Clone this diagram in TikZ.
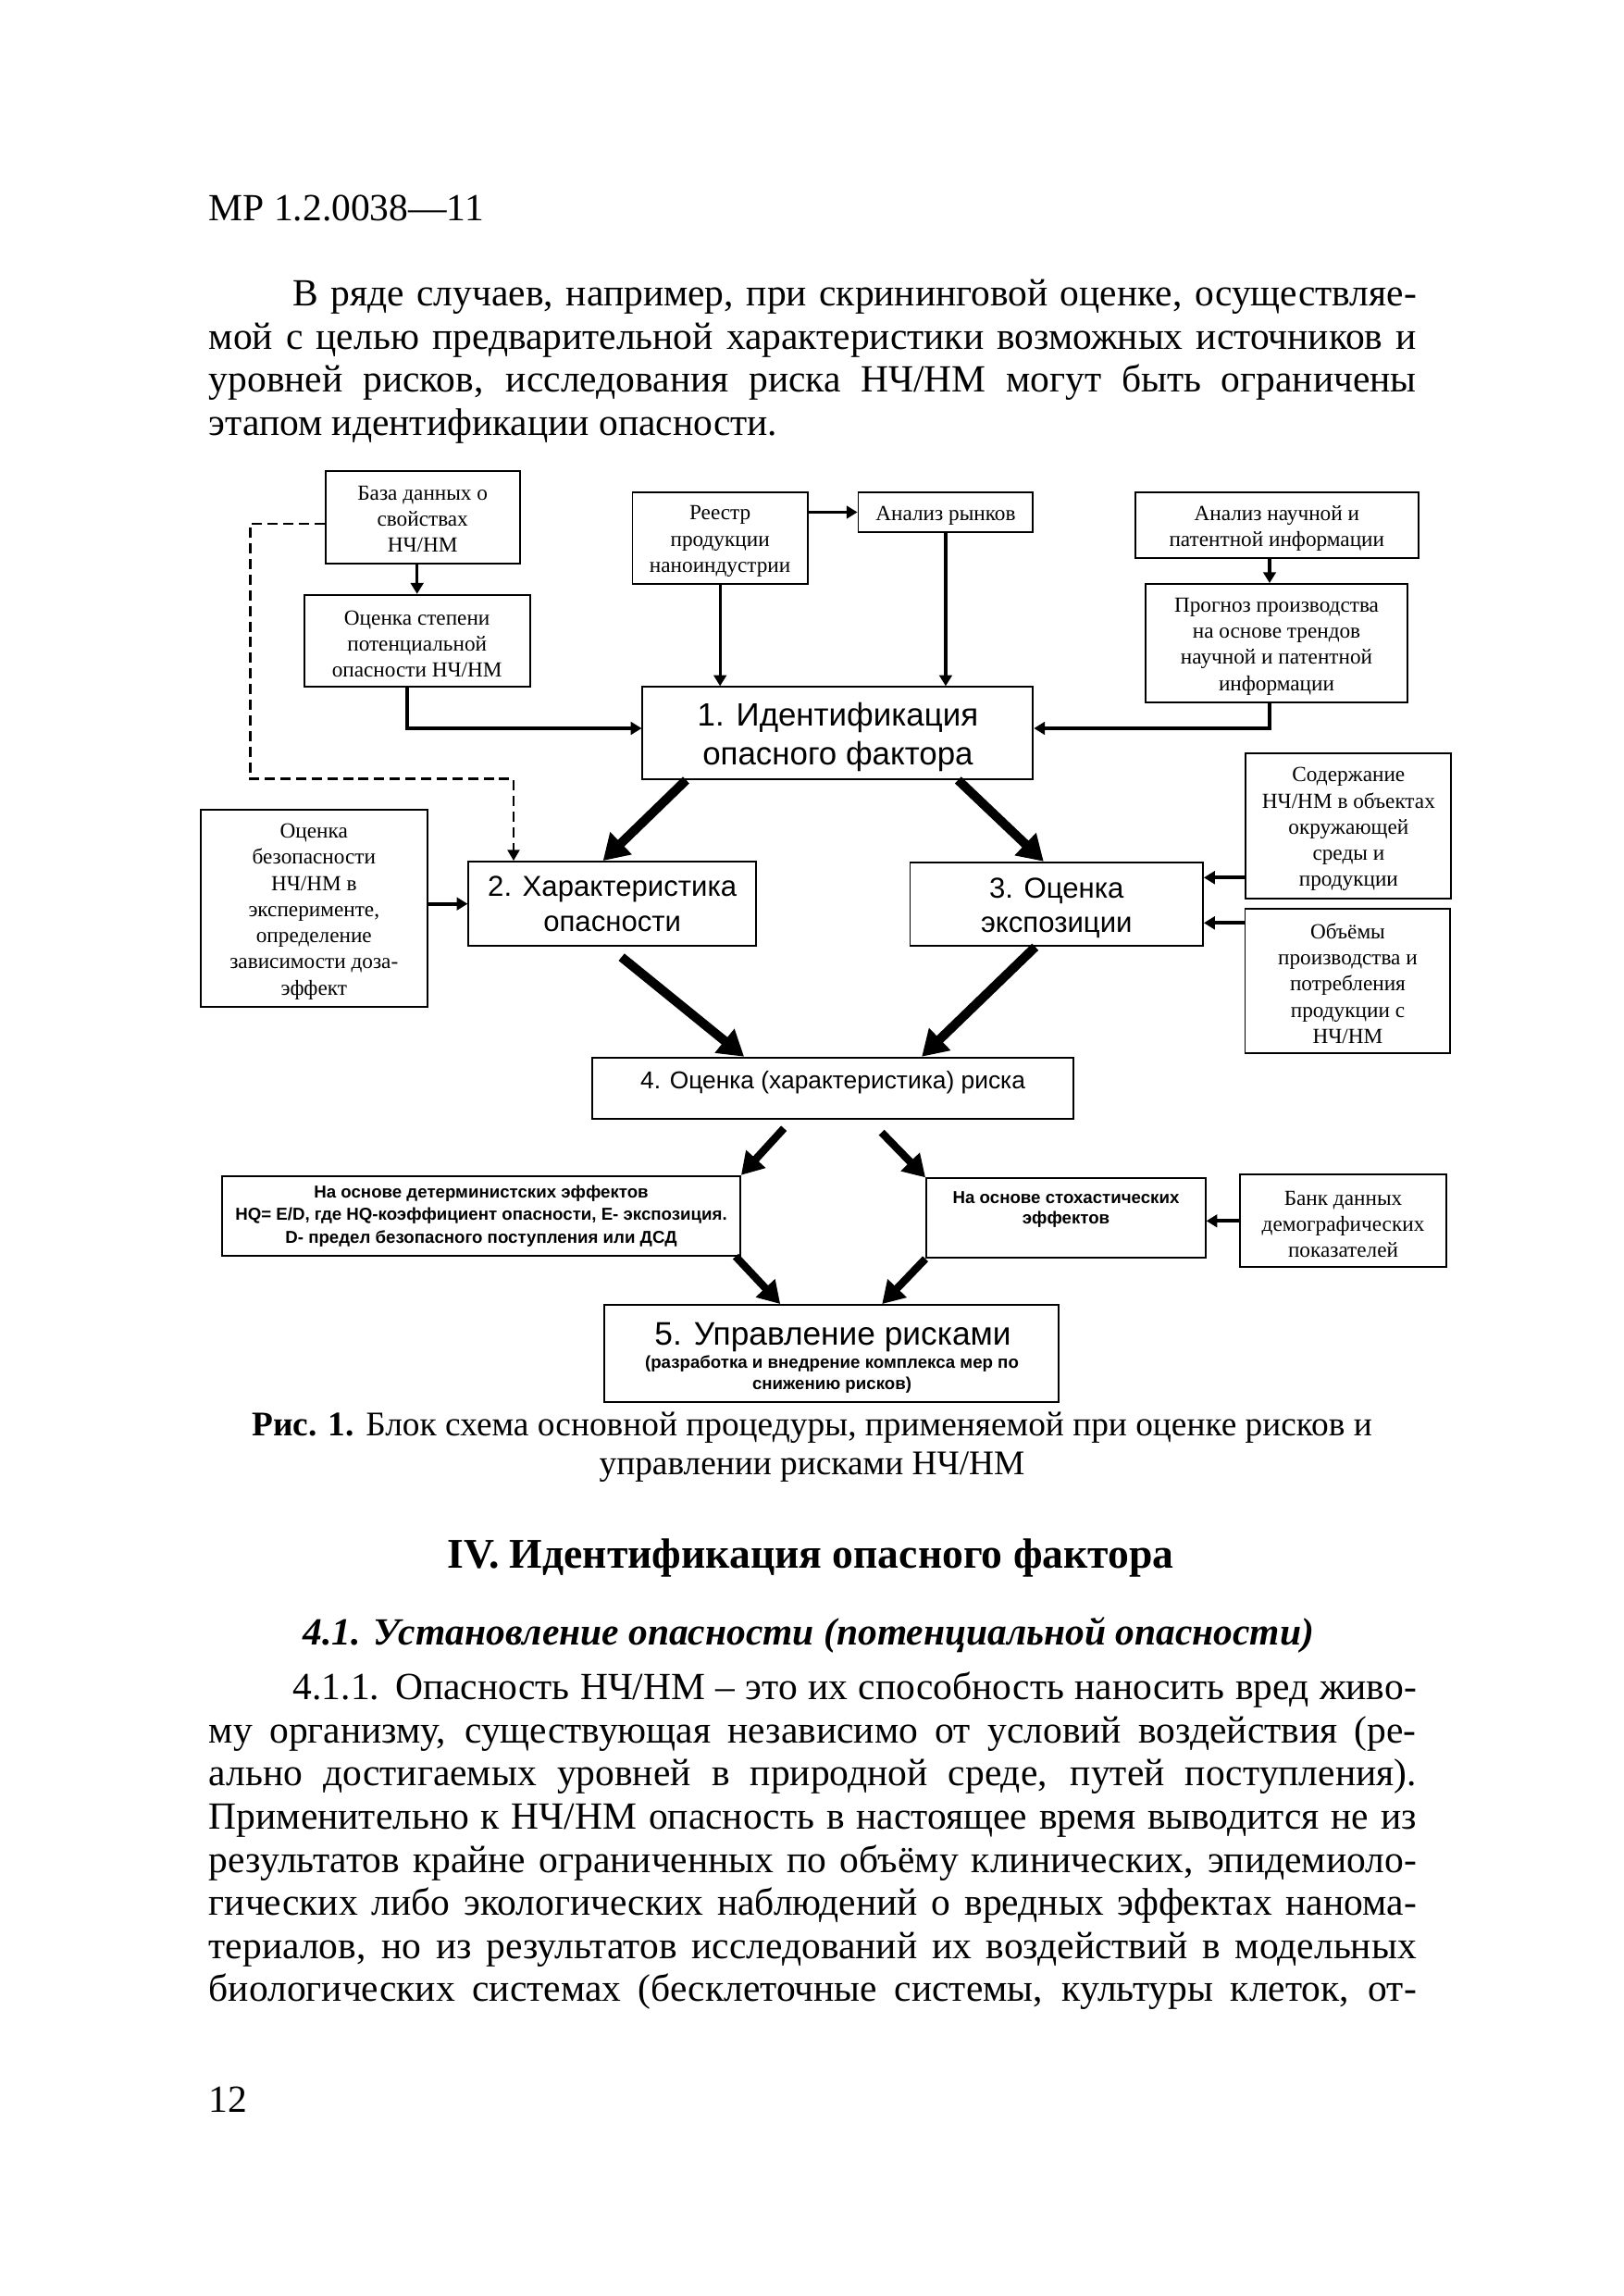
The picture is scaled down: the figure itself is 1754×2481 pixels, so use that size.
\documentclass[tikz,border=0pt]{standalone}
\usepackage{fontspec}
\setmainfont{Liberation Serif}
\setsansfont{Liberation Sans}
\usetikzlibrary{arrows.meta,calc,fit}
\newcommand\fullw[1]{\makebox[110.49mm][s]{#1}}
\newcommand\indw[1]{\makebox[102.79mm][s]{#1}}
\tikzset{
  box/.style={draw, line width=0.45pt, inner sep=0pt},
  lbl/.style={inner sep=0pt, align=center},
  stx/.style={lbl, yshift=-0.3mm, font=\fontsize{5.6}{6.8}\selectfont},
  bigsans/.style={lbl, font=\sffamily\fontsize{8.4}{10.1}\selectfont},
  midsans/.style={lbl, font=\sffamily\fontsize{7.5}{9.1}\selectfont},
  tinysans/.style={lbl, font=\sffamily\bfseries\fontsize{4.5}{5.4}\selectfont},
  bl/.style={anchor=base west, inner sep=0pt, font=\fontsize{10}{11}\selectfont},
  thin/.style={line width=0.75pt, -{Triangle[length=1mm,width=1.15mm]}},
  dasharr/.style={line width=0.6pt, dash pattern=on 0.93mm off 0.5mm, -{Triangle[length=1mm,width=1.1mm]}},
  fat/.style={line width=2.4pt, -{Triangle[length=2.3mm,width=2.7mm]}},
  fatb/.style={line width=2pt, -{Triangle[length=2mm,width=2.3mm]}},
}
\begin{document}
\begin{tikzpicture}[x=0.084667mm, y=-0.084667mm]
\useasboundingbox (0,0) rectangle (1754,2481);
\fill[white] (0,0) rectangle (1754,2481);

% ---------- page text (top) ----------
\node[bl] (hdr) at (225,239) {МР 1.2.0038—11};
\node[bl] (p1a) at (316,331) {\indw{В ряде случаев, например, при скрининговой оценке, осуществляе-}};
\node[bl] (p1b) at (225,377.5) {\fullw{мой с целью предварительной характеристики возможных источников и}};
\node[bl] (p1c) at (225,424) {\fullw{уровней рисков, исследования риска НЧ/НМ могут быть ограничены}};
\node[bl] (p1d) at (225,470.5) {этапом идентификации опасности.};

% ---------- diagram boxes ----------
\node[box, fit={(351.8,509.3)(561.6,609)}] (db) {};
\node[stx, yshift=0.15mm] (dbt) at (db.center) {База данных о\\свойствах\\НЧ/НМ};
\node[box, fit={(328.6,642.7)(572.8,742.3)}] (ocst) {};
\node[stx] (ocstt) at (ocst.center) {Оценка степени\\потенциальной\\опасности НЧ/НМ};
\node[box, fit={(683.5,531.7)(872.8,631.3)}] (reestr) {};
\node[stx] (reestrt) at (reestr.center) {Реестр\\продукции\\наноиндустрии};
\node[box, fit={(927.5,531.7)(1116.4,575.3)}] (rynok) {};
\node[stx] (rynokt) at (rynok.center) {Анализ рынков};
\node[box, fit={(1227,531.7)(1532.6,603.3)}] (nauch) {};
\node[stx] (naucht) at (nauch.center) {Анализ научной и\\патентной информации};
\node[box, fit={(1238,631)(1521,759)}] (prog) {};
\node[stx] (progt) at (prog.center) {Прогноз производства\\на основе трендов\\научной и патентной\\информации};
\node[box, fit={(694.4,742.3)(1116.4,842)}] (id) {};
\node[bigsans, yshift=-0.35mm] (idt) at (id.center) {1. Идентификация\\опасного фактора};
\node[box, fit={(217,875)(461.6,1088.3)}] (bez) {};
\node[stx] (bezt) at (bez.center) {Оценка\\безопасности\\НЧ/НМ в\\эксперименте,\\определение\\зависимости доза-\\эффект};
\node[box, fit={(506.3,931)(817,1022.3)}] (ch) {};
\node[midsans] (cht) at (ch.center) {2. Характеристика\\опасности};
\node[box, fit={(983.5,931.7)(1300,1022.3)}] (ex) {};
\node[midsans, yshift=-0.35mm] (ext) at (ex.center) {3. Оценка\\экспозиции};
\node[box, fit={(1346.4,814.3)(1568.3,970.7)}] (sod) {};
\node[stx] (sodt) at (sod.center) {Содержание\\НЧ/НМ в объектах\\окружающей\\среды и\\продукции};
\node[box, fit={(1345.5,982.3)(1567.4,1138.3)}] (vol) {};
\node[stx, yshift=0.1mm] (volt) at (vol.center) {Объёмы\\производства и\\потребления\\продукции с\\НЧ/НМ};
\node[box, fit={(640,1142.7)(1160.3,1209.3)}] (r4) {};
\node[lbl, font=\sffamily\fontsize{6.35}{7.5}\selectfont] (r4t) at (900,1170) {4. Оценка (характеристика) риска};
\node[box, fit={(240,1270.7)(800,1356.7)}] (det) {};
\node[tinysans, font=\sffamily\bfseries\fontsize{4.5}{5.9}\selectfont] (dett) at (det.center) {На основе детерминистских эффектов\\HQ= E/D, где HQ-коэффициент опасности, E- экспозиция.\\D- предел безопасного поступления или ДСД};
\node[box, fit={(1001,1273.3)(1302.7,1359.3)}] (stoh) {};
\node[tinysans] (stoht) at (1152,1307) {На основе стохастических\\эффектов};
\node[box, fit={(1340,1269.3)(1563,1369.3)}] (bank) {};
\node[stx] (bankt) at (bank.center) {Банк данных\\демографических\\показателей};
\node[box, fit={(652.7,1410)(1143.75,1515)}] (r5) {};
\node[lbl, font=\sffamily\fontsize{8.5}{10}\selectfont] (r5t) at (900,1445) {5. Управление рисками};
\node[tinysans] (r5s) at (899,1485) {(разработка и внедрение комплекса мер по\\снижению рисков)};

% ---------- thin connectors ----------
\draw[thin] (ocst.north |- db.south) -- (ocst.north);
\draw[thin] (reestr.south) -- (reestr.south |- id.north);
\draw[thin] (reestr.east |- rynok.west) -- (rynok.west);
\draw[thin] (rynok.south) -- (rynok.south |- id.north);
\coordinate (cxn) at (1372,0);
\draw[thin] (cxn |- nauch.south) -- (cxn |- prog.north);
\coordinate (yid) at (0,787);
\draw[thin] (cxn |- prog.south) |- (id.east |- yid);
\coordinate (cxo) at (440,0);
\draw[thin] (cxo |- ocst.south) |- (id.west |- yid);
\coordinate (dcor) at (270.5,841.7);
\coordinate (dx) at (555,841.7);
\draw[dasharr] ($(db.west)+(0,7)$) -| (dcor) -- (dx) -- (dx |- ch.north);
\draw[thin, line width=1pt] (bez.east |- ch.west) -- (ch.west);
\coordinate (ys) at (0,948.3);
\coordinate (yv) at (0,997.3);
\draw[thin, line width=1pt] (sod.west |- ys) -- (ex.east |- ys);
\draw[thin, line width=1pt] (vol.west |- yv) -- (ex.east |- yv);
\draw[thin, line width=1pt] (bank.west) -- (bank.west -| stoh.east);

% ---------- thick connectors ----------
\draw[fat] ($(id.south west)+(48,0)$) -- ($(ch.north)+(-10,0)$);
\draw[fat] ($(id.south east)+(-82,0)$) -- ($(ex.north)+(-14,0)$);
\draw[fat] ($(ch.south)+(10,11)$) -- ($(r4.north west)+(165,0)$);
\draw[fat] ($(ex.south)+(-23,0)$) -- ($(r4.north)+(96,0)$);
\draw[fatb] ($(r4.south)+(-53,9)$) -- (det.north east);
\draw[fatb] ($(r4.south)+(52.5,13.4)$) -- (stoh.north west);
\draw[fatb] ($(det.south east)+(-6,0)$) -- ($(r5.north)+(-55,0)$);
\draw[fatb] (stoh.south west) -- ($(r5.north)+(55,0)$);

% ---------- caption and lower text ----------
\node[anchor=base, inner sep=0pt, font=\fontsize{9}{10}\selectfont] (cap1) at (877.5,1551) {\textbf{Рис. 1.} Блок схема основной процедуры, применяемой при оценке рисков и};
\node[anchor=base, inner sep=0pt, font=\fontsize{9}{10}\selectfont] (cap2) at (877.5,1593) {управлении рисками НЧ/НМ};
\node[anchor=base, inner sep=0pt, font=\fontsize{11}{12}\selectfont\bfseries] (h4) at (876,1694) {IV. Идентификация опасного фактора};
\node[anchor=base, inner sep=0pt, font=\fontsize{10}{11}\selectfont\bfseries\itshape] (h41) at (874,1777) {4.1. Установление опасности (потенциальной опасности)};
\node[bl] (q1) at (316,1836.7) {\indw{4.1.1. Опасность НЧ/НМ – это их способность наносить вред живо-}};
\node[bl] (q2) at (225,1883.3) {\fullw{му организму, существующая независимо от условий воздействия (ре-}};
\node[bl] (q3) at (225,1929.9) {\fullw{ально достигаемых уровней в природной среде, путей поступления).}};
\node[bl] (q4) at (225,1976.5) {\fullw{Применительно к НЧ/НМ опасность в настоящее время выводится не из}};
\node[bl] (q5) at (225,2023.1) {\fullw{результатов крайне ограниченных по объёму клинических, эпидемиоло-}};
\node[bl] (q6) at (225,2069.7) {\fullw{гических либо экологических наблюдений о вредных эффектах нанома-}};
\node[bl] (q7) at (225,2116.3) {\fullw{териалов, но из результатов исследований их воздействий в модельных}};
\node[bl] (q8) at (225,2162.9) {\fullw{биологических системах (бесклеточные системы, культуры клеток, от-}};
\node[bl] (pg) at (225,2282) {12};
\end{tikzpicture}
\end{document}
